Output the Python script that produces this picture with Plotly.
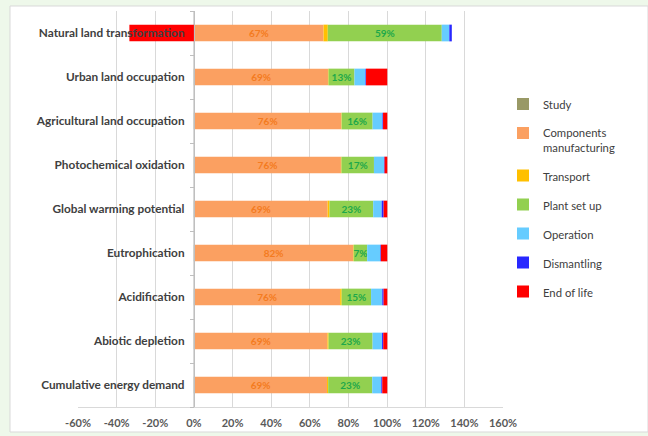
import plotly.graph_objects as go

categories = [
    "Natural land transformation",
    "Urban land occupation",
    "Agricultural land occupation",
    "Photochemical oxidation",
    "Global warming potential",
    "Eutrophication",
    "Acidification",
    "Abiotic depletion",
    "Cumulative energy demand",
]

study = [0.1, 0.1, 0.1, 0.1, 0.1, 0.1, 0.1, 0.1, 0.1]
components = [67.0, 69.3, 76.2, 76.0, 69.1, 82.3, 75.6, 69.0, 68.8]
transport = [2.2, 0.3, 0.2, 0.3, 1.0, 0.3, 0.8, 0.6, 0.6]
plant = [59.0, 13.4, 16.0, 16.8, 22.6, 7.0, 15.2, 22.8, 22.8]
operation = [3.9, 5.7, 5.1, 5.2, 4.4, 6.8, 5.8, 4.9, 4.7]
dismantling = [1.3, 0.3, 0.3, 0.3, 1.0, 0.3, 0.7, 0.6, 0.5]
end_of_life = [-33.4, 11.0, 2.2, 1.4, 1.9, 3.3, 1.9, 2.1, 2.6]

x_ticks = [-60, -40, -20, 0, 20, 40, 60, 80, 100, 120, 140, 160]
x_tick_labels = ["-60%", "-40%", "-20%", "0%", "20%", "40%", "60%", "80%",
                 "100%", "120%", "140%", "160%"]

series = [
    ("Study", study, "#999966", None, None),
    ("Components<br>manufacturing", components, "#FBA061", True, "#F47B20"),
    ("Transport", transport, "#FFC000", None, None),
    ("Plant set up", plant, "#92D050", True, "#1EA84A"),
    ("Operation", operation, "#66CCFF", None, None),
    ("Dismantling", dismantling, "#2828FF", None, None),
    ("End of life", end_of_life, "#FF0000", None, None),
]

FONT = "Lato"

fig = go.Figure()
for name, vals, color, labelled, tcolor in series:
    kw = {}
    if labelled:
        kw = dict(
            texttemplate="%{x:.0f}%",
            textposition="inside",
            insidetextanchor="middle",
            textangle=0,
            constraintext="none",
            textfont=dict(family=FONT, size=10, color=tcolor, weight="bold"),
        )
    fig.add_trace(go.Bar(
        y=categories, x=vals, name=name, orientation="h",
        marker=dict(color=color, line=dict(width=0)),
        legendgroup=name, hoverinfo="skip", **kw,
    ))

fig.update_layout(
    width=648, height=436,
    margin=dict(l=78, r=145, t=11, b=29, autoexpand=False),
    paper_bgcolor="#EEF8EA",
    plot_bgcolor="rgba(0,0,0,0)",
    barmode="relative",
    bargap=0.62,
    font=dict(family=FONT, color="#404040"),
    showlegend=True,
    legend=dict(
        x=1.0, y=0.800, xanchor="left", yanchor="top",
        traceorder="grouped", tracegroupgap=10, valign="top",
        font=dict(family=FONT, size=11.3, color="#404040"),
        itemwidth=30, bgcolor="rgba(0,0,0,0)",
    ),
    xaxis=dict(
        range=[-60, 160], tickvals=x_ticks, ticktext=x_tick_labels,
        showgrid=True, gridcolor="#D9D9D9", gridwidth=1, zeroline=False,
        showline=True, linecolor="#D9D9D9", linewidth=1,
        ticks="", ticklabelstandoff=6, automargin=False,
        tickfont=dict(family=FONT, size=11, color="#595959", weight="bold"),
        fixedrange=True,
    ),
    yaxis=dict(
        type="category", categoryorder="array",
        categoryarray=categories[::-1],
        anchor="free", position=60 / 220, automargin=False,
        showline=True, linecolor="#BFBFBF", linewidth=1,
        ticks="outside", ticklen=4, tickcolor="#BFBFBF", tickson="boundaries",
        ticklabelstandoff=7,
        showgrid=False,
        tickfont=dict(family=FONT, size=11.8, color="#404040", weight="bold"),
        fixedrange=True,
    ),
    shapes=[dict(
        type="rect", xref="paper", yref="paper",
        x0=(10 - 78) / 425, x1=(648 - 78) / 425,
        y0=(407 - 432) / 396, y1=(407 - 6) / 396,
        fillcolor="white", line=dict(color="#D9D9D9", width=1), layer="below",
    )],
)

fig.write_html(
    "out.html",
    config={"displayModeBar": False, "staticPlot": True},
    post_script="document.body.style.margin='0px';document.body.style.overflow='hidden';",
)
